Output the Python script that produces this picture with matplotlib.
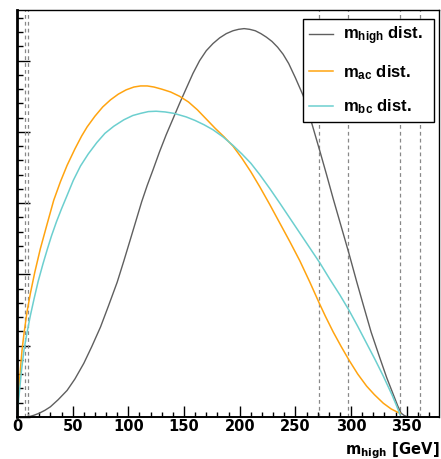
import matplotlib
matplotlib.use('Agg')
import matplotlib.pyplot as plt
from matplotlib.ticker import MultipleLocator

plt.rcParams['font.family'] = ['Liberation Sans', 'DejaVu Sans']
plt.rcParams['font.weight'] = 'bold'
plt.rcParams['mathtext.fontset'] = 'custom'
plt.rcParams['mathtext.rm'] = 'Liberation Sans:bold'
plt.rcParams['mathtext.it'] = 'Liberation Sans:bold'
plt.rcParams['mathtext.bf'] = 'Liberation Sans:bold'

# m_high distribution
high_x = [10.5, 15, 20, 25, 30, 37, 45, 52, 60, 67, 75, 82, 90, 96, 102, 107,
          112, 117, 122, 128, 134, 140, 146, 152, 158, 164, 170, 176, 182, 188,
          194, 199, 204, 209, 214, 219, 224, 229, 234, 239, 244, 250, 257, 264,
          272, 278, 284, 291, 298, 305, 311, 318, 326, 332, 338, 342, 345, 348,
          351]
high_y = [0, 0.02, 0.05, 0.09, 0.14, 0.24, 0.37, 0.53, 0.75, 0.98, 1.26, 1.55,
          1.89, 2.19, 2.50, 2.76, 3.02, 3.25, 3.46, 3.72, 3.96, 4.18, 4.40,
          4.61, 4.82, 5.00, 5.14, 5.24, 5.32, 5.38, 5.42, 5.44, 5.45, 5.44,
          5.42, 5.38, 5.33, 5.27, 5.19, 5.09, 4.96, 4.76, 4.51, 4.16, 3.73,
          3.40, 3.06, 2.68, 2.30, 1.90, 1.57, 1.19, 0.82, 0.55, 0.31, 0.15,
          0.05, 0.015, 0.0]

# m_ac distribution
ac_x = [0, 1.5, 3, 4.5, 6.3, 9, 12, 16, 21, 26.6, 33, 39, 45, 52, 58, 63, 70,
        77, 84, 91, 98, 105, 111, 117, 123, 130, 138, 146, 154, 162, 170, 178,
        186, 194, 202, 210, 218, 227, 236, 245, 254, 263, 271.6, 277, 284, 291,
        298, 306, 314, 321, 329, 336, 341, 344]
ac_y = [0, 0.35, 0.65, 0.93, 1.17, 1.47, 1.73, 2.03, 2.36, 2.68, 3.04, 3.30,
        3.53, 3.76, 3.94, 4.07, 4.22, 4.35, 4.45, 4.53, 4.59, 4.63, 4.645,
        4.645, 4.63, 4.60, 4.56, 4.50, 4.42, 4.31, 4.18, 4.05, 3.93, 3.80,
        3.63, 3.44, 3.23, 2.98, 2.72, 2.46, 2.19, 1.89, 1.59, 1.41, 1.19, 0.99,
        0.80, 0.60, 0.43, 0.31, 0.19, 0.11, 0.07, 0.05]

# m_bc distribution
bc_x = [0, 2, 4, 6.3, 9, 12, 15.4, 19, 23.4, 27.4, 31, 35.5, 40, 44, 50.6, 57,
        64, 71.7, 79, 87, 96, 104, 111, 118, 125, 133, 141, 152, 160, 168, 176,
        185, 194, 202, 210, 218, 227, 236, 245, 254, 263, 272, 281, 290, 298,
        306, 314, 322, 329, 337, 341, 344]
bc_y = [0, 0.32, 0.64, 0.94, 1.18, 1.42, 1.66, 1.90, 2.15, 2.36, 2.54, 2.74,
        2.92, 3.07, 3.32, 3.52, 3.69, 3.85, 3.98, 4.08, 4.17, 4.23, 4.26,
        4.285, 4.29, 4.28, 4.26, 4.21, 4.16, 4.10, 4.03, 3.93, 3.81, 3.69,
        3.56, 3.40, 3.205, 3.00, 2.79, 2.58, 2.37, 2.16, 1.93, 1.71, 1.50,
        1.27, 1.03, 0.79, 0.57, 0.30, 0.15, 0.03]

# vertical reference lines
vlines = [7, 10, 271.6, 297.3, 344.3, 362.3]

fig = plt.figure(figsize=(4.41, 4.59), dpi=100)
ax = fig.add_axes([0.0385, 0.092, 0.957, 0.886])

for v in vlines:
    ax.axvline(v, color='#888888', lw=0.9, ls=(0, (3, 2.5)))

ax.plot(high_x, high_y, color='#5f5f5f', lw=1.0, label=r'$\mathbf{m_{high}}$ dist.')
ax.plot(ac_x, ac_y, color='#ffa410', lw=1.1, label=r'$\mathbf{m_{ac}}$ dist.')
ax.plot(bc_x, bc_y, color='#6ccfcf', lw=1.1, label=r'$\mathbf{m_{bc}}$ dist.')

ax.set_xlim(0, 379)
ax.set_ylim(0, 5.71)

ax.xaxis.set_major_locator(MultipleLocator(50))
ax.xaxis.set_minor_locator(MultipleLocator(10))
ax.yaxis.set_major_locator(MultipleLocator(1))
ax.yaxis.set_minor_locator(MultipleLocator(0.2))
ax.tick_params(axis='x', which='major', direction='in', length=8, width=1, pad=1.5)
ax.tick_params(axis='x', which='minor', direction='in', length=3.8, width=1)
ax.tick_params(axis='y', which='major', direction='in', length=9.4, width=1,
               labelleft=False)
ax.tick_params(axis='y', which='minor', direction='in', length=4.3, width=1)
for lab in ax.get_xticklabels():
    lab.set_fontfamily('DejaVu Sans')
    lab.set_fontweight('bold')
    lab.set_fontsize(10.5)

for s in ['top', 'right']:
    ax.spines[s].set_linewidth(1.0)
ax.spines['bottom'].set_linewidth(1.4)
ax.spines['left'].set_linewidth(2.0)

ax.set_xlabel(r'$\mathbf{m_{high}}$ [GeV]', fontsize=10.6, fontweight='bold',
              fontfamily='DejaVu Sans', math_fontfamily='dejavusans',
              ha='right', va='top')
ax.xaxis.set_label_coords(1.0, -0.058)

leg = ax.legend(loc='upper left', bbox_to_anchor=(0.677, 0.979, 0.312, 0.0),
                mode='expand', fancybox=False, framealpha=1, edgecolor='black',
                fontsize=12, handlelength=1.45, labelspacing=0.95,
                borderpad=0.36, handletextpad=0.6, borderaxespad=0)
leg.get_frame().set_linewidth(1.0)

fig.savefig('out.png', dpi=100)
